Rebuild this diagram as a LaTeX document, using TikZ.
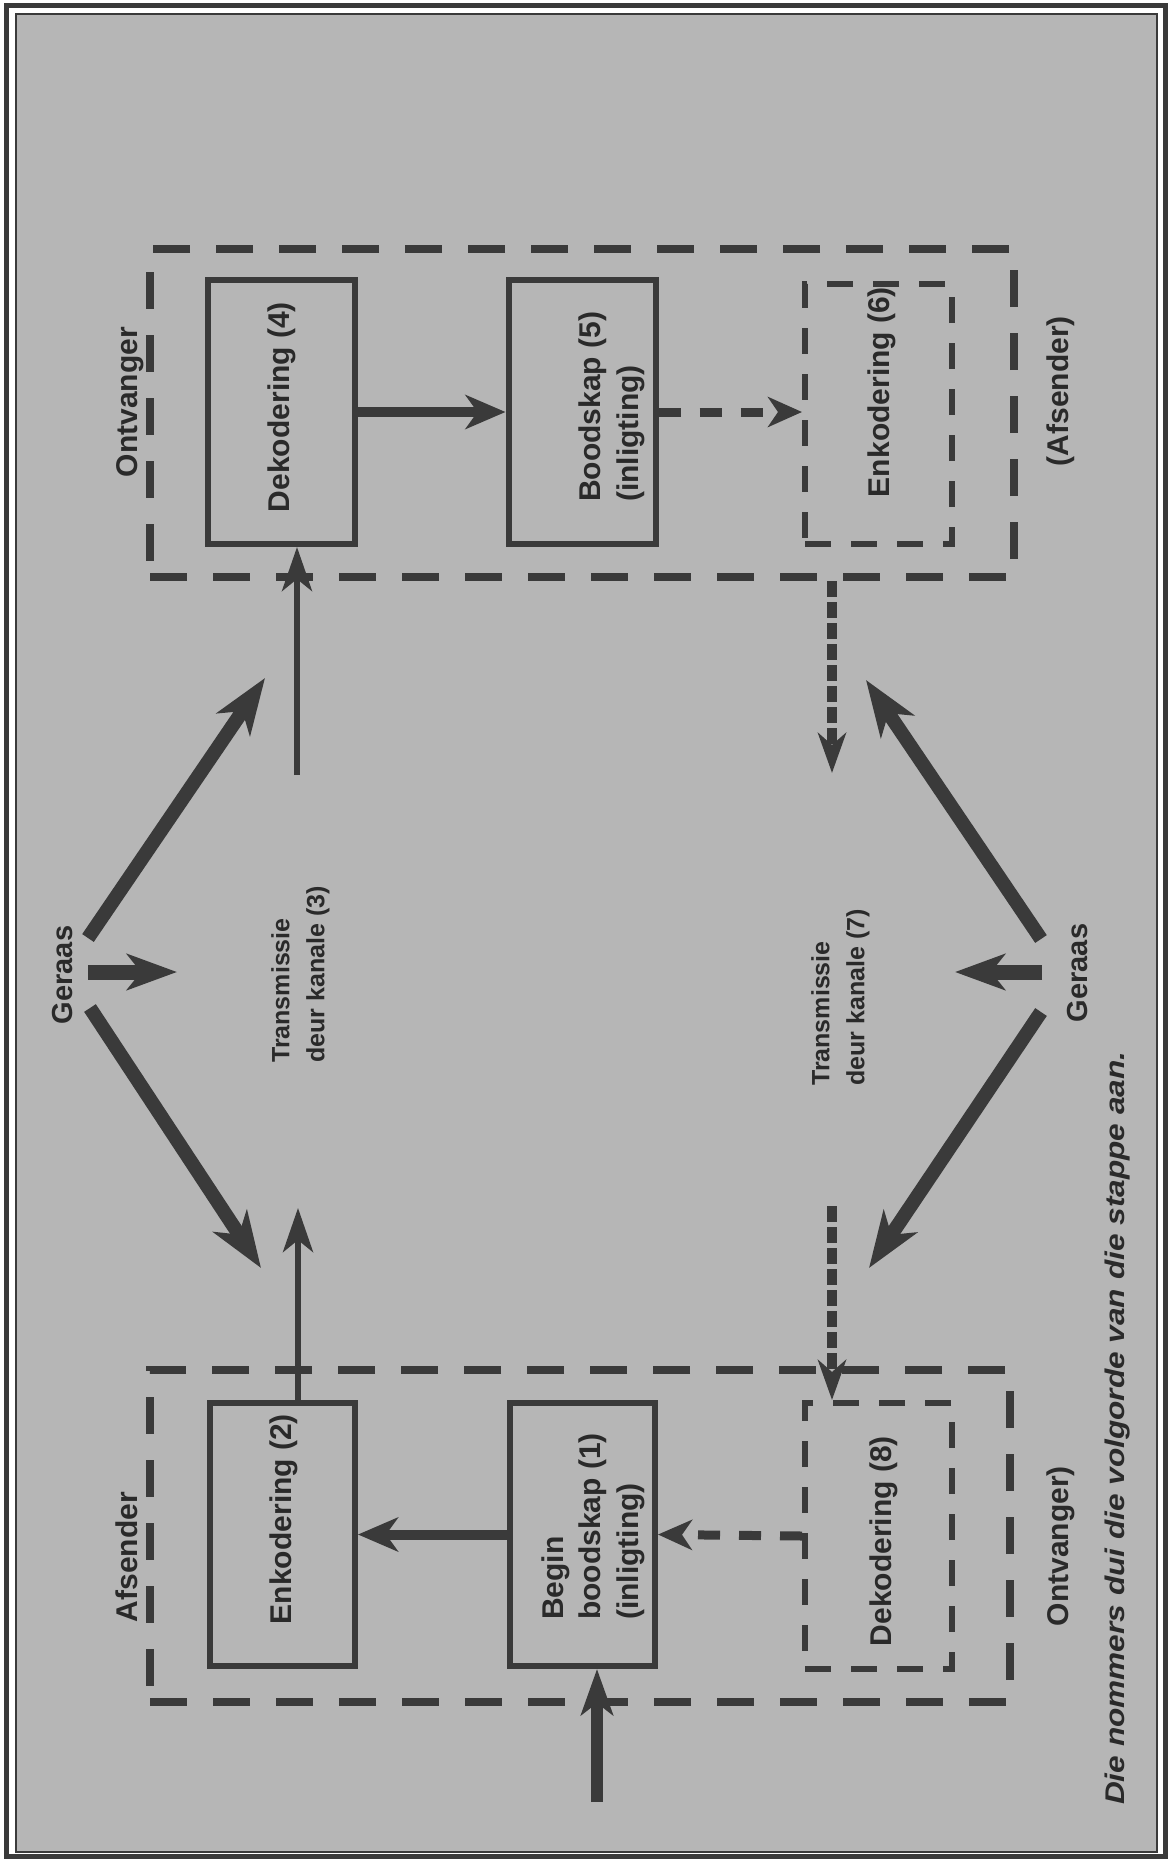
\documentclass[tikz,border=0pt]{standalone}
\usepackage{fontspec}
\setmainfont{Liberation Sans}
\usetikzlibrary{arrows.meta,calc}
\definecolor{bg}{RGB}{182,182,182}
\definecolor{ink}{RGB}{58,58,58}
\definecolor{txt}{RGB}{42,42,42}
\begin{document}
\begin{tikzpicture}[x=1pt,y=-1pt,
  box/.style={draw=ink,line width=6pt,minimum width=147pt,minimum height=264pt,inner sep=0pt},
  dbox/.style={box,dash pattern=on 26pt off 20pt},
  grp/.style={draw=ink,line width=8pt,inner sep=0pt,dash pattern=on 37pt off 26pt},
  lbl/.style={rotate=90,inner sep=0pt,text=txt,font=\fontsize{30}{37.5}\selectfont\bfseries},
  small/.style={rotate=90,inner sep=0pt,text=txt,font=\fontsize{25}{35}\selectfont\bfseries},
  geraas/.style={rotate=90,inner sep=0pt,text=txt,font=\fontsize{29}{35}\selectfont\bfseries},
  note/.style={rotate=90,inner sep=0pt,text=txt,font=\fontsize{27}{32}\selectfont\bfseries\itshape},
  arr/.style={draw=ink,line width=10pt,-{Stealth[length=40pt,width=34pt,inset=12pt]}},
  darr/.style={draw=ink,line width=9pt,dash pattern=on 22pt off 19pt,-{Stealth[length=34pt,width=30pt,inset=10pt]}},
  thinarr/.style={draw=ink,line width=6pt,-{Stealth[length=44pt,width=30pt,inset=12pt]}},
  vdarr/.style={draw=ink,line width=10pt,dash pattern=on 16pt off 5pt,-{Stealth[length=40pt,width=28pt,inset=12pt]}},
  bigarr/.style={draw=ink,line width=14pt,-{Stealth[length=56pt,width=40pt,inset=16pt]}},
  inarr/.style={draw=ink,line width=12pt,-{Stealth[length=46pt,width=32pt,inset=12pt]}},
]
\useasboundingbox (0,0) rectangle (1170,1861);
\fill[white] (0,0) rectangle (1170,1861);
\draw[ink,line width=5pt] (6,5) rectangle (1165,1856);
\fill[bg] (16,14) rectangle (1157,1852);
\draw[ink,line width=2.5pt] (16,14) rectangle (1157,1852);

% group frames
\node[grp,minimum width=864pt,minimum height=328pt] (ontvgrp) at (582,413) {};
\node[grp,minimum width=860pt,minimum height=332pt] (afsgrp) at (580,1536) {};

% boxes
\node[box] (dek4) at (281.5,412) {};
\node[box] (bood5) at (582,412) {};
\node[dbox,minimum height=260pt] (enk6) at (878.5,414) {};
\node[box,minimum width=145pt,minimum height=263pt] (enk2) at (282.5,1534.5) {};
\node[box,minimum width=145pt,minimum height=263pt] (begin1) at (582.5,1534.5) {};
\node[dbox,minimum height=266pt] (dek8) at (878.5,1536) {};

% labels
\node[lbl,anchor=base] (tontv) at (137,402) {Ontvanger};
\node[lbl,anchor=base] (tafs2) at (1068,391) {(Afsender)};
\node[lbl,anchor=base] (tafs) at (137,1557) {Afsender};
\node[lbl,anchor=base] (tontv2) at (1068,1546) {Ontvanger)};
\node[lbl,anchor=base] (tdek4) at (289,407) {Dekodering (4)};
\node[lbl,anchor=base] (tenk6) at (889,392) {Enkodering (6)};
\node[lbl,anchor=base] (tenk2) at (291,1519) {Enkodering (2)};
\node[lbl,anchor=base] (tdek8) at (891,1541) {Dekodering (8)};
\node[lbl,align=left,anchor=north west] (tbood5) at (579,502) {Boodskap (5)\\(inligting)};
\node[lbl,align=left,anchor=north west] (tbegin) at (541.5,1620) {Begin\\boodskap (1)\\(inligting)};
\node[small,align=left,anchor=north west] (ttr3) at (271,1063) {Transmissie\\deur kanale (3)};
\node[small,align=left,anchor=north west] (ttr7) at (811,1086) {Transmissie\\deur kanale (7)};
\node[geraas,anchor=base] (gerL) at (72,975) {Geraas};
\node[geraas,anchor=base] (gerR) at (1087,973) {Geraas};
\node[note,anchor=base west] (tnote) at (1124,1805) {\scalebox{1.17}[1]{Die nommers dui die volgorde van die stappe aan.}};

% connectors inside groups
\draw[arr] (dek4.east) -- (bood5.west);
\draw[darr] (bood5.east) -- (enk6.west |- bood5.east);
\draw[arr] (begin1.west) -- (enk2.east);
\draw[darr] (dek8.west) -- (begin1.east);

% transmission (3)
\coordinate (t3top) at (298,1208);
\coordinate (t3bot) at (297,775);
\draw[thinarr] ([xshift=15.5pt]enk2.north) -- (t3top);
\draw[thinarr] (t3bot) -- ([xshift=15.5pt]dek4.south);

% transmission (7)
\coordinate (t7top) at (832,773);
\coordinate (t7bot) at (832,1206);
\draw[vdarr] (ontvgrp.south -| t7top) -- (t7top);
\draw[vdarr] (t7bot) -- (t7bot |- dek8.north);

% input
\coordinate (inp) at (597,1802);
\draw[inarr] (inp) -- (inp |- begin1.south);

% noise arrows
\coordinate (gL1) at (88,938);   \coordinate (gL1e) at (265,678);
\coordinate (gL2) at (90,1008);  \coordinate (gL2e) at (261,1268);
\coordinate (gL3) at (88,972);   \coordinate (gL3e) at (177,972);
\coordinate (gR1) at (1041,939); \coordinate (gR1e) at (866,680);
\coordinate (gR2) at (1041,1012);\coordinate (gR2e) at (869,1268);
\coordinate (gR3) at (1042,972); \coordinate (gR3e) at (955,972);
\draw[bigarr] (gL1) -- (gL1e);
\draw[bigarr] (gL2) -- (gL2e);
\draw[bigarr,line width=15pt,-{Stealth[length=50pt,width=36pt,inset=14pt]}] (gL3) -- (gL3e);
\draw[bigarr] (gR1) -- (gR1e);
\draw[bigarr] (gR2) -- (gR2e);
\draw[bigarr,line width=15pt,-{Stealth[length=50pt,width=36pt,inset=14pt]}] (gR3) -- (gR3e);
\end{tikzpicture}
\end{document}
